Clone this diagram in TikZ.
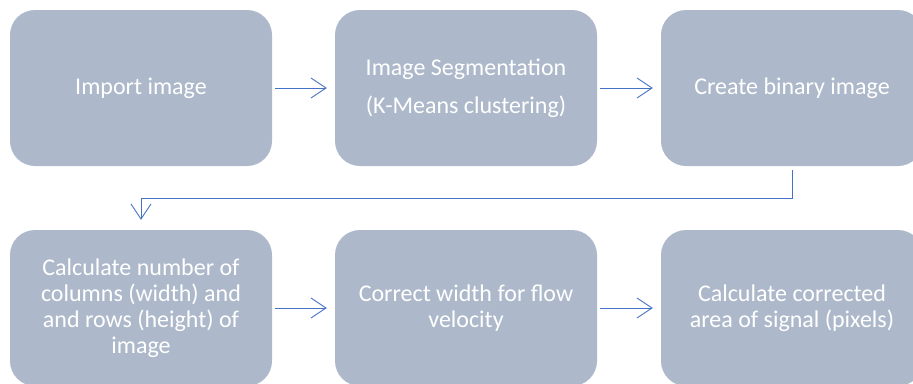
\documentclass[tikz,border=0pt]{standalone}
\usepackage{fontspec}
\setmainfont{Carlito}
\usepackage{tikz}
\usetikzlibrary{arrows.meta, positioning}
\definecolor{boxgray}{HTML}{ADB9CA}
\definecolor{linkblue}{HTML}{4472C4}
\tikzset{
    stepbox/.style={rectangle, rounded corners=25pt, fill=boxgray, draw=none, align=center, minimum width=262pt, minimum height=156pt, text=white, font=\fontsize{24}{26}\selectfont},
    arrow/.style={draw=linkblue, line width=0.9pt, -{Straight Barb[length=15pt, width=20pt, line width=0.9pt]}}
}

\begin{document}
\begin{tikzpicture}[x=1pt, y=1pt]
    \useasboundingbox (0,0) rectangle (913,-383);

    % Top row: image preparation
    \node[stepbox] (import) at (141,-88) {Import image};
    \node[stepbox] (segment) at (466,-88) {Image Segmentation\\[12pt](K-Means clustering)};
    \node[stepbox] (binary) at (792,-88) {Create binary image};
    \draw[arrow, shorten <=3pt, shorten >=8pt] (import) -- (segment);
    \draw[arrow, shorten <=3pt, shorten >=8pt] (segment) -- (binary);

    % Bottom row: measurement
    \node[stepbox] (count) at (141,-308) {Calculate number of\\columns (width) and\\and rows (height) of\\image};
    \node[stepbox] (correct) at (466,-308) {Correct width for flow\\velocity};
    \node[stepbox] (area) at (792,-308) {Calculate corrected\\area of signal (pixels)};
    \draw[arrow, shorten <=3pt, shorten >=8pt] (count) -- (correct);
    \draw[arrow, shorten <=3pt, shorten >=8pt] (correct) -- (area);

    % Link between rows
    \draw[arrow, shorten <=4pt, shorten >=10pt] (binary.south) -- ++(0,-32) -| (count.north);
\end{tikzpicture}
\end{document}
